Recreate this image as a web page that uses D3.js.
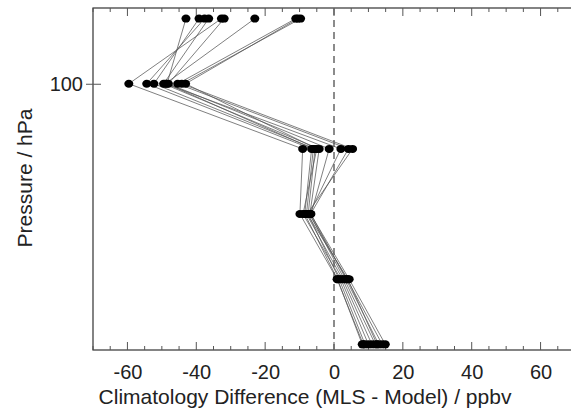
<!DOCTYPE html>
<html><head><meta charset="utf-8">
<script src="https://cdn.jsdelivr.net/npm/d3@7"></script>
<style>body{margin:0;background:#fff;} svg{display:block;font-family:"Liberation Sans",Arial,sans-serif;}</style>
</head><body>
<svg id="c" width="571" height="409"></svg>
<script>
const levels = [68.13, 100, 146.78, 215.44, 316.23, 464.16];
const profiles = [
  [-43.0, -48.5, -6.0, -8.0, 2.5, 11.0],
  [-39.2, -52.3, -5.5, -7.5, 1.5, 9.0],
  [-37.6, -54.4, -6.5, -8.5, 1.0, 8.2],
  [-36.4, -49.5, -4.3, -7.0, 3.0, 12.0],
  [-32.7, -59.6, -9.1, -9.9, 0.9, 8.5],
  [-31.9, -48.1, -1.4, -6.7, 3.5, 13.0],
  [-23.0, -49.0, 2.0, -7.2, 3.8, 14.0],
  [-11.1, -45.4, 4.2, -6.8, 4.4, 14.9],
  [-9.7, -44.2, 5.4, -7.8, 4.0, 12.5],
  [-10.5, -43.1, -5.0, -9.0, 2.0, 10.0]
];
const xTicks = [-60, -40, -20, 0, 20, 40, 60];
const yTicks = [100];
const xLabel = "Climatology Difference (MLS - Model) / ppbv";
const yLabel = "Pressure / hPa";

const svg = d3.select("#c");
const L = 93, R = 575, T = 8, B = 350;
const x = d3.scaleLinear().domain([-70, 70]).range([L, R]);
const y = d3.scaleLog().domain([64, 480]).range([T, B]);
const fmt = d => String(d);

// frame
svg.append("rect").attr("x", L).attr("y", T).attr("width", R - L).attr("height", B - T)
  .attr("fill", "none").attr("stroke", "#333").attr("stroke-width", 1.2);

// minor/major x ticks (inward) bottom & top
const minor = d3.range(-70, 71, 5);
minor.forEach(v => {
  const major = v % 20 === 0 && Math.abs(v) <= 60;
  const len = major ? 8 : 4;
  svg.append("line").attr("x1", x(v)).attr("x2", x(v)).attr("y1", B).attr("y2", B - len).attr("stroke", "#555");
  svg.append("line").attr("x1", x(v)).attr("x2", x(v)).attr("y1", T).attr("y2", T + len).attr("stroke", "#555");
});
const xAxis = svg.append("g").attr("transform", `translate(0,${B})`)
  .call(d3.axisBottom(x).tickValues(xTicks).tickSize(0).tickPadding(15).tickFormat(fmt));
xAxis.select(".domain").remove();
xAxis.selectAll("text").attr("font-size", 20).attr("fill", "#222").attr("font-family", "Liberation Sans, Arial, sans-serif");

const yAxis = svg.append("g").attr("transform", `translate(${L},0)`)
  .call(d3.axisLeft(y).tickValues(yTicks).tickSize(7).tickPadding(3).tickFormat(fmt));
yAxis.select(".domain").remove();
yAxis.selectAll("line").attr("stroke", "#555").attr("x2", 8).attr("x1", -7);
yAxis.selectAll("text").attr("font-size", 20).attr("fill", "#222").attr("font-family", "Liberation Sans, Arial, sans-serif");

// zero line
svg.append("line").attr("x1", x(0)).attr("x2", x(0)).attr("y1", T).attr("y2", B)
  .attr("stroke", "#666").attr("stroke-width", 1.5).attr("stroke-dasharray", "7,5");

// profiles
const line = d3.line().x(d => x(d[0])).y(d => y(d[1]));
profiles.forEach(p => {
  const pts = p.map((v, i) => [v, levels[i]]);
  svg.append("path").attr("d", line(pts)).attr("fill", "none")
    .attr("stroke", "#555").attr("stroke-opacity", 0.75).attr("stroke-width", 1);
});
profiles.forEach(p => {
  p.forEach((v, i) => {
    svg.append("ellipse").attr("cx", x(v)).attr("cy", y(levels[i])).attr("rx", 4.5).attr("ry", 4).attr("fill", "#000");
  });
});

svg.append("text").attr("x", 305).attr("y", 404).attr("text-anchor", "middle")
  .attr("font-size", 21).attr("fill", "#222").text(xLabel);
svg.append("text").attr("transform", "translate(32,178) rotate(-90)").attr("text-anchor", "middle")
  .attr("font-size", 21).attr("fill", "#222").text(yLabel);
</script>
</body></html>
